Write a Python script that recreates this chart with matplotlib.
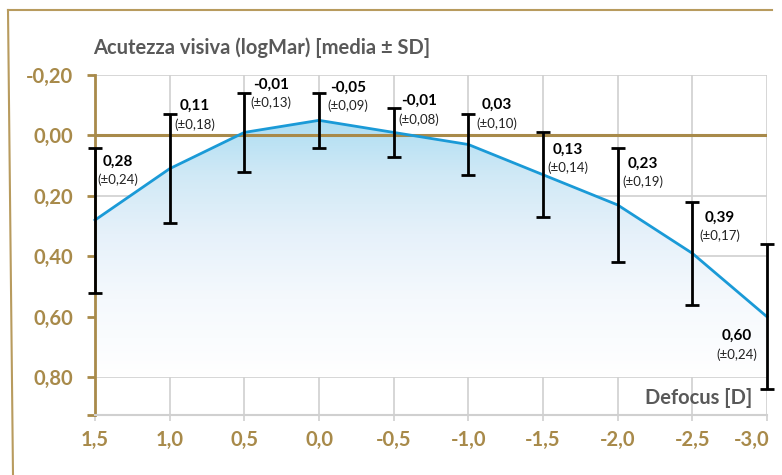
import numpy as np
import matplotlib
matplotlib.use("Agg")
import matplotlib.pyplot as plt
import matplotlib.transforms as mtransforms
from matplotlib.colors import LinearSegmentedColormap
from matplotlib.lines import Line2D

# Defocus levels (D) and visual acuity (logMAR): mean and standard deviation
defocus_labels = ["1,5", "1,0", "0,5", "0,0", "-0,5", "-1,0", "-1,5", "-2,0", "-2,5", "-3,0"]
acuity_mean = [0.28, 0.11, -0.01, -0.05, -0.01, 0.03, 0.13, 0.23, 0.39, 0.60]
acuity_sd = [0.24, 0.18, 0.13, 0.09, 0.08, 0.10, 0.14, 0.19, 0.17, 0.24]
ytick_values = [-0.20, 0.00, 0.20, 0.40, 0.60, 0.80]

# label placement (pixels from the top cap of each error bar)
label_offsets = [(23, -14), (25, 8), (27, 8), (29, 5), (25, 7),
                 (28, 9), (25, -17), (25, -16), (27, -16), (-30, -92)]

GOLD = "#A88A4A"
GOLD_FRAME = "#B89B5E"
GREY_TXT = "#595959"
GRID = "#D0D0D0"
BLUE = "#1A9AD7"

plt.rcParams["font.family"] = ["Lato", "DejaVu Sans"]

fig = plt.figure(figsize=(7.82, 4.75), dpi=100)
W, H = 782, 475
ax = fig.add_axes([95 / W, 1 - 415 / H, (767 - 95) / W, (415 - 75) / H])

x = np.arange(len(defocus_labels))
mean = np.array(acuity_mean)
sd = np.array(acuity_sd)
ybottom = 0.925
ax.set_xlim(0, len(x) - 1)
ax.set_ylim(ybottom, -0.20)

# gradient area below the curve
cmap = LinearSegmentedColormap.from_list(
    "fade", [(0.0, "#ACDDF2"), (0.22, "#D0E9F6"), (0.45, "#E6F1FA"),
             (0.7, "#F5F9FD"), (1.0, "#FFFFFF")])
grad = np.linspace(0, 1, 256).reshape(-1, 1)
img = ax.imshow(grad, cmap=cmap, aspect="auto",
                extent=[0, len(x) - 1, 0.80, -0.06], zorder=1,
                interpolation="bilinear")
poly = ax.fill_between(x, mean, ybottom, color="none", lw=0)
img.set_clip_path(poly.get_paths()[0], transform=ax.transData)
ax.set_xlim(0, len(x) - 1)
ax.set_ylim(ybottom, -0.20)

# grid
for v in ytick_values:
    ax.axhline(v, color=GRID, lw=1.2, zorder=0.5)
for xi in x:
    ax.axvline(xi, color=GRID, lw=1.2, zorder=0.5)
ax.axhline(0, color=GOLD, lw=2.2, zorder=2)

ax.plot(x, mean, color=BLUE, lw=2, zorder=3, clip_on=False)
ax.errorbar(x, mean, yerr=sd, fmt="none", ecolor="black", elinewidth=2,
            capsize=5, capthick=2, zorder=4, clip_on=False)

for xi, m, s, (dx, dy) in zip(x, mean, sd, label_offsets):
    val = f"{m:.2f}".replace(".", ",")
    ax.annotate(val, (xi, m - s), xytext=(dx, dy), textcoords="offset pixels",
                ha="center", va="center", fontsize=11, fontweight="bold",
                color="black", zorder=5)
    ax.annotate(f"(±{s:.2f})".replace(".", ","), (xi, m - s),
                xytext=(dx, dy - 18), textcoords="offset pixels",
                ha="center", va="center", fontsize=9.5, color="#222222", zorder=5)

# axes styling
for side in ["top", "right"]:
    ax.spines[side].set_visible(False)
ax.spines["left"].set_color(GOLD)
ax.spines["left"].set_linewidth(2)
ax.spines["bottom"].set_color(GRID)
ax.spines["bottom"].set_linewidth(1.5)

ax.set_yticks(ytick_values + [ybottom])
ax.set_yticklabels([f"{v:.2f}".replace(".", ",") for v in ytick_values] + [""])
ax.tick_params(axis="y", colors=GOLD, length=6, width=2, pad=10,
               labelsize=14.5)
ax.set_xticks(x)
ax.set_xticklabels(defocus_labels)
ax.tick_params(axis="x", colors=GRID, length=4, width=1.2, pad=7,
               labelsize=14.5, labelcolor=GOLD)
for lbl in ax.get_xticklabels() + ax.get_yticklabels():
    lbl.set_fontweight("bold")
# keep the last x label inside the figure
last = ax.get_xticklabels()[-1]
last.set_horizontalalignment("right")
last.set_transform(last.get_transform() +
                   mtransforms.ScaledTranslation(3 / 100, 0, fig.dpi_scale_trans))

fig.text(93 / W, 1 - 48 / H, "Acutezza visiva (logMar) [media ± SD]",
         fontsize=14.5, fontweight="bold", color=GREY_TXT, va="center", ha="left")
fig.text(752 / W, 1 - 398 / H, "Defocus [D]", fontsize=14.5,
         fontweight="bold", color=GREY_TXT, va="center", ha="right")

# outer frame (top and left edges)
fig.add_artist(Line2D([8 / W, 772 / W], [1 - 10 / H, 1 - 10 / H],
                      color=GOLD_FRAME, lw=1.5))
fig.add_artist(Line2D([8 / W, 13 / W], [1 - 10 / H, 0],
                      color=GOLD_FRAME, lw=1.5))

fig.savefig("out.png", dpi=100)
